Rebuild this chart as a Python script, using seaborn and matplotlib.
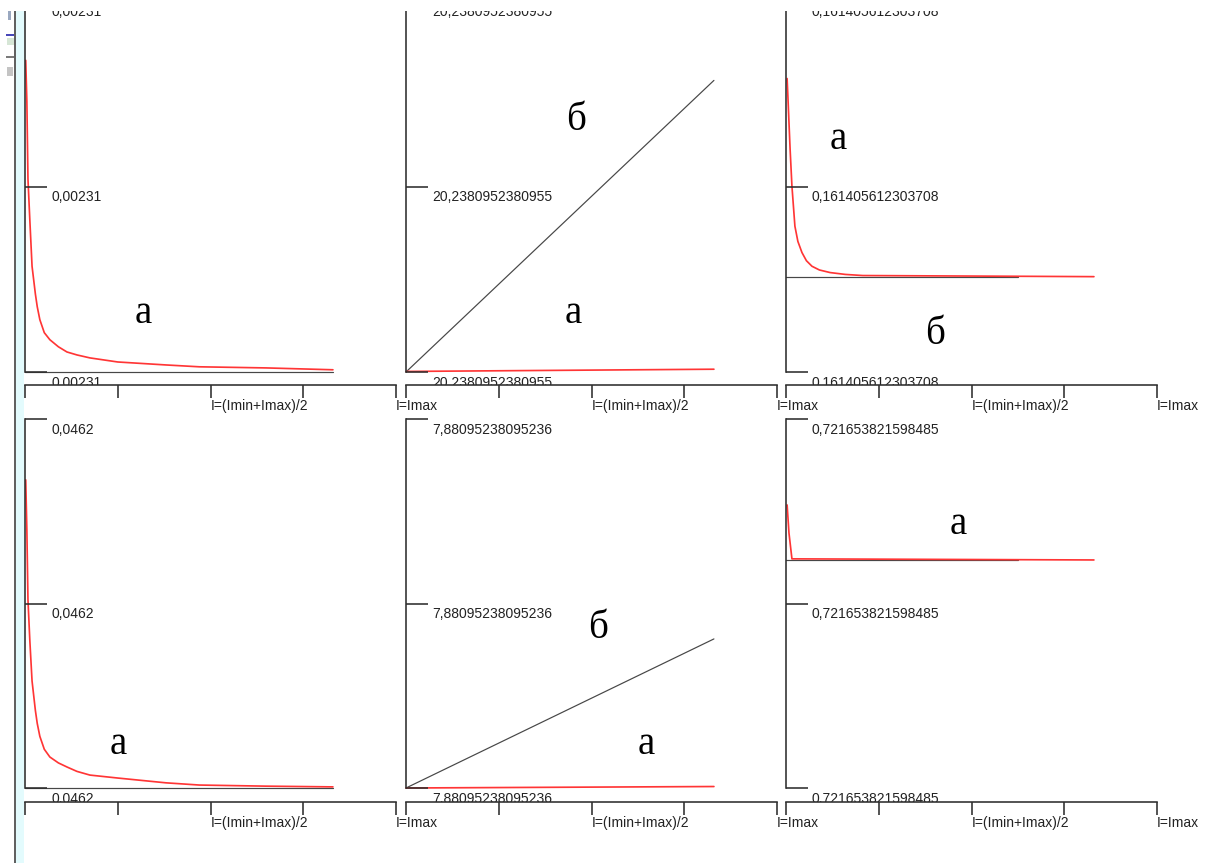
import matplotlib
matplotlib.use("Agg")
import matplotlib.pyplot as plt
from matplotlib.patches import Rectangle
from matplotlib.lines import Line2D
import seaborn as sns

# ---------------------------------------------------------------------------
# Data: x is the share of the current axis (0 = left end, 1 = I=Imax),
# y is the position on each panel's scale (0 = lower tick, 1 = upper tick).
# Series "а" is drawn in red, series "б" in dark grey.
# ---------------------------------------------------------------------------
x_decay = [0.002, 0.005, 0.008, 0.013, 0.019, 0.028, 0.033, 0.040, 0.052,
           0.067, 0.090, 0.113, 0.140, 0.175, 0.250, 0.380, 0.470, 0.650, 0.830]

# top row
top_left_a = [0.840, 0.730, 0.520, 0.410, 0.285, 0.210, 0.176, 0.141, 0.106,
              0.087, 0.068, 0.054, 0.046, 0.038, 0.027, 0.019, 0.014, 0.011, 0.006]
top_left_b_x = [0.0, 0.83]
top_left_b = [0.0, 0.0]

top_mid_a_x = [0.0, 0.83]
top_mid_a = [0.0015, 0.0075]
top_mid_b_x = [0.0, 0.83]
top_mid_b = [0.0, 0.786]

top_right_a_x = [0.003, 0.005, 0.011, 0.016, 0.024, 0.032, 0.043, 0.055,
                 0.070, 0.090, 0.119, 0.160, 0.207, 0.830]
top_right_a = [0.791, 0.745, 0.602, 0.501, 0.393, 0.352, 0.322, 0.300,
               0.285, 0.275, 0.268, 0.263, 0.260, 0.257]
top_right_b_x = [0.0, 0.624]
top_right_b = [0.257, 0.257]

# bottom row
bot_left_a = [0.835, 0.700, 0.510, 0.400, 0.290, 0.210, 0.175, 0.140, 0.105,
              0.084, 0.068, 0.057, 0.045, 0.035, 0.027, 0.014, 0.008, 0.005, 0.003]
bot_left_b_x = [0.0, 0.83]
bot_left_b = [0.0, 0.0]

bot_mid_a_x = [0.0, 0.83]
bot_mid_a = [0.0, 0.004]
bot_mid_b_x = [0.0, 0.83]
bot_mid_b = [0.0, 0.404]

bot_right_a_x = [0.003, 0.008, 0.016, 0.830]
bot_right_a = [0.767, 0.691, 0.621, 0.618]
bot_right_b_x = [0.0, 0.624]
bot_right_b = [0.618, 0.618]

# scale captions (the program prints the same rounded value at every tick)
scale_labels = ["0,00231", "20,2380952380955", "0,161405612303708",
                "0,0462", "7,88095238095236", "0,721653821598485"]
y_ticks = [0.0, 0.5, 1.0]
x_ticks = [0.0, 0.25, 0.5, 0.75, 1.0]
x_tick_labels = ["", "", "I=(Imin+Imax)/2", "", "I=Imax"]

# series tags written inside each panel: (text, x, baseline y) in axes fraction
tags = [
    [("а", 0.318, 0.133)],
    [("б", 0.458, 0.653), ("а", 0.450, 0.133)],
    [("а", 0.140, 0.602), ("б", 0.402, 0.076)],
    [("а", 0.251, 0.092)],
    [("б", 0.518, 0.407), ("а", 0.647, 0.092)],
    [("а", 0.464, 0.688)],
]

panels = [
    (x_decay, top_left_a, top_left_b_x, top_left_b),
    (top_mid_a_x, top_mid_a, top_mid_b_x, top_mid_b),
    (top_right_a_x, top_right_a, top_right_b_x, top_right_b),
    (x_decay, bot_left_a, bot_left_b_x, bot_left_b),
    (bot_mid_a_x, bot_mid_a, bot_mid_b_x, bot_mid_b),
    (bot_right_a_x, bot_right_a, bot_right_b_x, bot_right_b),
]

# ---------------------------------------------------------------------------
sns.set_theme(style="white")
plt.rcParams["font.family"] = ["Liberation Sans", "DejaVu Sans"]

W, H = 1205, 863
fig = plt.figure(figsize=(W / 100, H / 100), dpi=100)
fig.patch.set_facecolor("white")

AXIS_C = "#2e2e2e"
RED = "#ff3535"
DARK = "#474747"
PT = 72 / 100  # points per pixel


def rect(x, y_top, w, h):
    return [x / W, 1 - (y_top + h) / H, w / W, h / H]


col_x = [25, 406, 786]
row_top = [1, 419]
row_bot = [372, 788]
strip_top = [385, 802]
panel_w = 371

for idx, (ax_x, a_y, b_x, b_y) in enumerate(panels):
    r, c = divmod(idx, 3)
    x0 = col_x[c]
    h = row_bot[r] - row_top[r]

    ax = fig.add_axes(rect(x0, row_top[r], panel_w, h))
    ax.set_zorder(1)
    ax.set_facecolor("white")
    ax.set_axisbelow(False)

    sns.lineplot(x=b_x, y=b_y, ax=ax, color=DARK, linewidth=1.2 * PT,
                 estimator=None, sort=False, errorbar=None)
    sns.lineplot(x=ax_x, y=a_y, ax=ax, color=RED, linewidth=1.7 * PT,
                 estimator=None, sort=False, errorbar=None)
    for ln in ax.lines:
        ln.set_clip_on(False)
        ln.set_solid_joinstyle("round")

    ax.set_xlim(0, 1)
    ax.set_ylim(0, 1)
    ax.set_xlabel("")
    ax.set_ylabel("")
    for side in ("top", "right", "bottom"):
        ax.spines[side].set_visible(False)
    ax.spines["left"].set_color(AXIS_C)
    ax.spines["left"].set_linewidth(1.6 * PT)
    ax.set_xticks([])
    ax.set_yticks(y_ticks)
    ax.tick_params(axis="y", direction="in", length=22 * PT, width=1.6 * PT,
                   color=AXIS_C, labelleft=False, left=True)
    for v in y_ticks:
        ax.annotate(scale_labels[idx], xy=(0, v),
                    xycoords=("axes fraction", "data"),
                    xytext=(26, -14.5), textcoords="offset pixels",
                    ha="left", va="baseline", fontsize=10, color="#222222",
                    annotation_clip=False)

    for text, tx, ty in tags[idx]:
        ax.text(tx, ty, text, transform=ax.transAxes, ha="center",
                va="baseline", fontsize=28, color="black",
                family=["Liberation Serif", "DejaVu Serif"])

    # current axis drawn as a separate strip below the plot
    axs = fig.add_axes(rect(x0, strip_top[r], panel_w, 13))
    axs.set_zorder(3)
    axs.set_facecolor("white")
    axs.set_xlim(0, 1)
    axs.set_ylim(0, 1)
    for side in ("left", "right", "bottom"):
        axs.spines[side].set_visible(False)
    axs.spines["top"].set_color(AXIS_C)
    axs.spines["top"].set_linewidth(1.6 * PT)
    axs.set_yticks([])
    axs.set_xticks(x_ticks, x_tick_labels)
    axs.tick_params(axis="x", direction="in", length=13 * PT, width=1.6 * PT,
                    color=AXIS_C, pad=1, labelsize=10, labelcolor="#222222",
                    bottom=True)
    for lbl in axs.get_xticklabels():
        lbl.set_ha("left")

# window frame on the left edge
fig.add_artist(Rectangle((16 / W, 0), 8 / W, 1, transform=fig.transFigure,
                         facecolor="#e3fbfd", edgecolor="none", zorder=5))
fig.add_artist(Line2D([15 / W, 15 / W], [0, 1], transform=fig.transFigure,
                      color="#3a3a3a", linewidth=1.6 * PT, zorder=5))
for x_l, y_top, ww, hh, col in [(8, 11, 3, 9, "#9aa8c0"), (6, 34, 8, 2, "#4848b8"),
                                (7, 38, 7, 7, "#d6e6d6"), (6, 56, 8, 2, "#7a7a7a"),
                                (7, 67, 6, 9, "#c4c4c4")]:
    fig.add_artist(Rectangle((x_l / W, 1 - (y_top + hh) / H), ww / W, hh / H,
                             transform=fig.transFigure, facecolor=col,
                             edgecolor="none", zorder=5))

# the window content starts just below the top edge
fig.add_artist(Rectangle((0, 1 - 11 / H), 1, 11 / H, transform=fig.transFigure,
                         facecolor="white", edgecolor="none", zorder=10))

fig.savefig("out.png", dpi=100, facecolor="white")
